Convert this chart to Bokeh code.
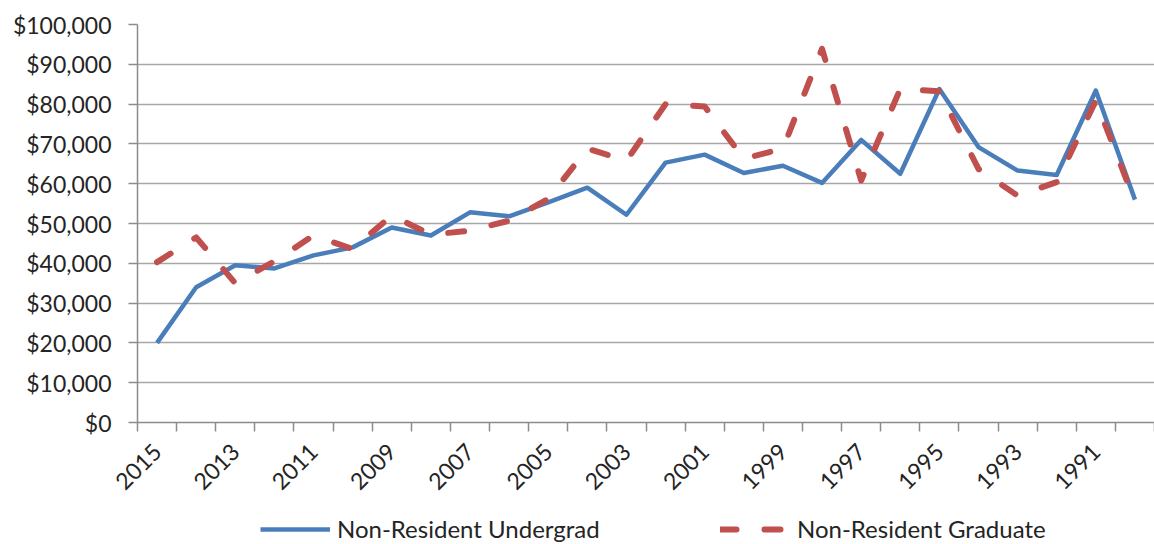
from math import pi
from bokeh.plotting import figure
from bokeh.layouts import column
from bokeh.models import Range1d, FixedTicker, NumeralTickFormatter, Legend, LegendItem, ColumnDataSource
from bokeh.embed import file_html
from bokeh.resources import INLINE

years = list(range(2015, 1989, -1))
undergrad = [20000, 34000, 39500, 38700, 42000, 44000, 49000, 47000, 52800, 51800,
             55300, 59000, 52200, 65300, 67300, 62700, 64500, 60200, 71000, 62500,
             83800, 69200, 63300, 62200, 83400, 56000]
graduate = [40300, 46500, 35000, 40500, 47000, 43600, 52000, 47200, 48200, 50700,
            56200, 68800, 65800, 80000, 79400, 66300, 68800, 93900, 60800, 83800,
            83200, 63700, 57000, 60400, 80900, 55500]
label_years = years[::2]
y_ticks = list(range(0, 100001, 10000))
series_names = ["Non-Resident Undergrad", "Non-Resident Graduate"]

FONT = "Lato"
TXT = "#242424"
AX = "#8c8c8c"
BLUE = dict(line_color="#4A7EBB", line_width=4.5, line_join="round")
RED = dict(line_color="#C0504D", line_width=6, line_dash="16 28", line_cap="round", line_join="round")

src = ColumnDataSource(dict(year=years, ug=undergrad, gr=graduate))

W = 1154
H_MAIN = 500
FRAME_LEFT = 137
p = figure(width=W, height=H_MAIN,
           x_range=Range1d(years[0] + 0.5, years[-1] - 0.5),
           y_range=Range1d(0, 100000),
           output_backend="svg", toolbar_location=None,
           min_border_left=FRAME_LEFT, min_border_right=0, min_border_top=24,
           min_border_bottom=H_MAIN - 422)
p.outline_line_color = None

p.line("year", "ug", source=src, **BLUE)
p.line("year", "gr", source=src, **RED)

p.xgrid.visible = False
p.ygrid.grid_line_color = "#a6a6a6"
p.ygrid.grid_line_width = 1.5

ya = p.yaxis[0]
ya.ticker = FixedTicker(ticks=y_ticks)
ya.formatter = NumeralTickFormatter(format="$0,0")
ya.axis_line_color = AX
ya.axis_line_width = 1.5
ya.major_tick_line_color = AX
ya.major_tick_line_width = 1.5
ya.major_tick_out = 9
ya.major_tick_in = 0
ya.minor_tick_out = 0
ya.minor_tick_in = 0
ya.major_label_standoff = 17
ya.major_label_text_font = FONT
ya.major_label_text_font_size = "23px"
ya.major_label_text_color = TXT

xa = p.xaxis[0]
xa.ticker = FixedTicker(ticks=label_years,
                        minor_ticks=[y + 0.5 for y in range(years[-1] - 1, years[0] + 1)])
xa.major_label_overrides = {y: str(y) for y in label_years}
xa.axis_line_color = AX
xa.axis_line_width = 1.5
xa.major_tick_out = 0
xa.major_tick_in = 0
xa.minor_tick_out = 9
xa.minor_tick_in = 0
xa.minor_tick_line_color = AX
xa.minor_tick_line_width = 1.5
xa.major_label_orientation = pi / 4
xa.major_label_standoff = 16
xa.major_label_text_font = FONT
xa.major_label_text_font_size = "23px"
xa.major_label_text_color = TXT

# legend strip below the chart (its frame is aligned with the chart's frame by the column layout)
H_LEG = 544 - H_MAIN
pl = figure(width=W, height=H_LEG, x_range=Range1d(0, 1), y_range=Range1d(0, 1),
            output_backend="svg", toolbar_location=None,
            min_border_left=FRAME_LEFT, min_border_right=0, min_border_top=0, min_border_bottom=0,
            x_axis_type=None, y_axis_type=None)
pl.outline_line_color = None
pl.grid.visible = False
# same series drawn out of this strip's visible range: only their legend glyphs show
lr1 = pl.line("year", "ug", source=src, **BLUE)
lr2 = pl.line("year", "gr", source=src, **RED)

common = dict(orientation="horizontal", glyph_width=70, glyph_height=20, label_standoff=7,
              label_text_font=FONT, label_text_font_size="24px", label_text_color=TXT,
              border_line_color=None, background_fill_alpha=0, margin=0, padding=0)
leg1 = Legend(items=[LegendItem(label=series_names[0], renderers=[lr1])],
              location=(260 - FRAME_LEFT, 1), **common)
leg2 = Legend(items=[LegendItem(label=series_names[1], renderers=[lr2])],
              location=(720 - FRAME_LEFT, 1), **common)
pl.add_layout(leg1, "center")
pl.add_layout(leg2, "center")

layout = column(p, pl, spacing=0)
open("out.html", "w").write(file_html(layout, INLINE))
